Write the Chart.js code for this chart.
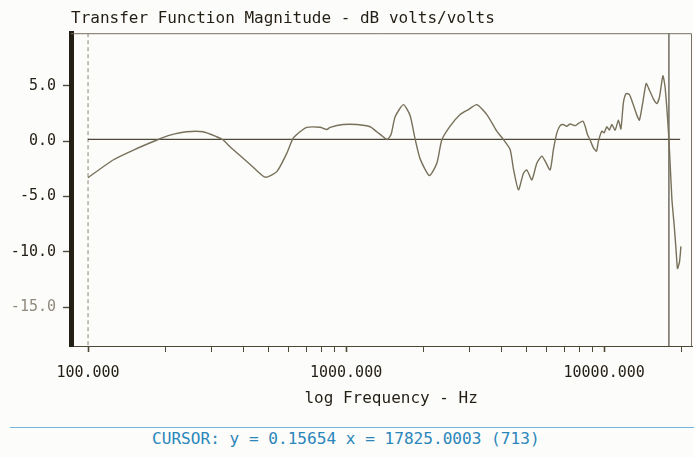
<!DOCTYPE html>
<html>
<head>
<meta charset="utf-8">
<script src="https://cdn.jsdelivr.net/npm/chart.js@4.4.1/dist/chart.umd.min.js"></script>
<style>
  html, body { margin: 0; padding: 0; background: #fcfcfa; }
  #wrap { position: relative; width: 694px; height: 457px; overflow: hidden; }
  #plot { display: block; }
  #cursor {
    position: absolute; left: 10px; top: 427px; width: 684px; height: 30px;
    border-top: 1px solid #74b7de;
  }
  #cursor span {
    position: absolute; left: 142px; top: 1px; line-height: 20px;
    font-family: "DejaVu Sans Mono", monospace; font-size: 16.1px; color: #2b86ba;
    white-space: pre;
  }
</style>
</head>
<body>
<div id="wrap">
  <canvas id="plot" width="694" height="415"></canvas>
  <div id="cursor"><span id="cursorText"></span></div>
</div>
<script>
// measured transfer function, frequency in Hz and magnitude in dB
const freqHz = [
  100, 125, 150, 187, 208, 241, 279, 315, 334, 355,
  388, 425, 485, 539, 589, 623, 663, 704, 793, 842,
  867, 974, 1100, 1239, 1315, 1391, 1442, 1494, 1549, 1668,
  1771, 1851, 1936, 2103, 2247, 2349, 2530, 2767, 2979, 3211,
  3511, 3838, 4071, 4322, 4451, 4654, 4867, 5017, 5246, 5484,
  5735, 5907, 6176, 6361, 6557, 6753, 6936, 7168, 7383, 7720,
  7951, 8268, 8441, 8616, 8825, 9088, 9337, 9504, 9797, 10000,
  10240, 10480, 10710, 11030, 11360, 11610, 11880, 12170, 12530, 12920,
  13390, 13700, 14130, 14550, 14980, 15530, 16010, 16390, 16890, 17240,
  17825, 18300, 18680, 19020, 19240, 19590, 19840
];
const magDb = [
  -3.3, -1.7, -0.8, 0.15, 0.55, 0.85, 0.85, 0.4, 0.1, -0.5,
  -1.3, -2.1, -3.25, -2.75, -1.1, 0.25, 0.85, 1.25, 1.25, 1.05,
  1.25, 1.5, 1.5, 1.3, 0.85, 0.4, 0.15, 0.6, 2.2, 3.3,
  2.3, 0.2, -1.6, -3.1, -2.0, 0.1, 1.35, 2.4, 2.85, 3.3,
  2.4, 0.9, 0.15, -0.75, -2.5, -4.4, -2.9, -2.6, -3.5, -2.0,
  -1.35, -1.8, -2.6, -0.75, 0.75, 1.4, 1.5, 1.35, 1.55, 1.4,
  1.6, 1.8, 1.35, 0.6, 0.1, -0.6, -0.9, 0.0, 0.9, 0.75,
  1.3, 1.0, 1.5, 1.0, 1.9, 1.1, 3.5, 4.3, 4.2, 3.4,
  2.35, 1.9, 3.55, 5.2, 4.6, 3.8, 3.4, 4.0, 5.9, 4.8,
  0.157, -5.2, -7.6, -10.0, -11.5, -10.9, -9.5
];

const cursorX = 17825.0003;
const cursorY = 0.15654;
const cursorIndex = 713;
const cursorLineEnd = 19700;

const xMin = 85.9;
const xMax = 21900;
const yMin = -18.5;
const yMax = 9.75;

const yTickValues = [5, 0, -5, -10, -15];
const xTickValues = [
  100, 200, 300, 400, 500, 600, 700, 800, 900,
  1000, 2000, 3000, 4000, 5000, 6000, 7000, 8000, 9000,
  10000, 20000
];
const xLabelled = [100, 1000, 10000];

const ink = '#241f15';
Chart.defaults.font.family = '"DejaVu Sans Mono", monospace';

document.getElementById('cursorText').textContent =
  'CURSOR: y = ' + cursorY.toFixed(5) + ' x = ' + cursorX.toFixed(4) + ' (' + cursorIndex + ')';

// thin top and right border round the plot area
const framePlugin = {
  id: 'frame',
  afterDatasetsDraw(chart) {
    const { ctx, chartArea: a } = chart;
    ctx.save();
    ctx.strokeStyle = '#77715f';
    ctx.lineWidth = 1;
    ctx.beginPath();
    ctx.moveTo(a.left, a.top + 0.5);
    ctx.lineTo(a.right - 0.5, a.top + 0.5);
    ctx.lineTo(a.right - 0.5, a.bottom);
    ctx.stroke();
    ctx.restore();
  }
};

const ctx = document.getElementById('plot').getContext('2d');

new Chart(ctx, {
  type: 'line',
  data: {
    datasets: [
      {
        label: 'magnitude',
        data: freqHz.map((f, i) => ({ x: f, y: magDb[i] })),
        borderColor: '#77705a',
        borderWidth: 1.4,
        pointRadius: 0,
        tension: 0.2,
      },
      {
        label: 'cursor y',
        data: [{ x: freqHz[0], y: cursorY }, { x: cursorLineEnd, y: cursorY }],
        borderColor: '#4d4838',
        borderWidth: 1.2,
        pointRadius: 0,
      },
      {
        label: 'cursor x',
        data: [{ x: cursorX, y: yMax }, { x: cursorX, y: yMin }],
        borderColor: '#4d4838',
        borderWidth: 1.2,
        pointRadius: 0,
      },
      {
        label: 'start',
        data: [{ x: freqHz[0], y: yMax }, { x: freqHz[0], y: yMin }],
        borderColor: '#8c8672',
        borderWidth: 1,
        borderDash: [4, 3],
        pointRadius: 0,
      },
    ],
  },
  options: {
    responsive: false,
    animation: false,
    devicePixelRatio: 1,
    layout: { padding: { top: 0, right: 2, bottom: 3, left: 0 } },
    plugins: {
      legend: { display: false },
      tooltip: { enabled: false },
      title: {
        display: true,
        text: 'Transfer Function Magnitude - dB volts/volts',
        align: 'start',
        fullSize: false,
        color: ink,
        font: { size: 16, weight: 'normal', lineHeight: 1.2 },
        padding: { top: 9, bottom: 5 },
      },
    },
    scales: {
      x: {
        type: 'logarithmic',
        min: xMin,
        max: xMax,
        afterBuildTicks: (scale) => {
          scale.ticks = xTickValues.map((v) => ({ value: v, major: xLabelled.includes(v) }));
        },
        afterFit: (scale) => { scale.height = 66; },
        ticks: {
          autoSkip: false,
          maxRotation: 0,
          padding: 12,
          color: ink,
          font: { size: 15 },
          callback: (v) => (xLabelled.includes(v) ? v.toFixed(3) : ''),
        },
        grid: {
          drawOnChartArea: false,
          tickLength: 6,
          tickColor: '#4d4838',
          tickWidth: (c) => (c.tick && xLabelled.includes(c.tick.value) ? 1.6 : 1),
        },
        border: { color: '#4d4838', width: 1 },
        title: {
          display: true,
          text: '  log Frequency - Hz',
          color: ink,
          font: { size: 16, lineHeight: 1.2 },
          padding: { top: 4, bottom: 4 },
        },
      },
      y: {
        min: yMin,
        max: yMax,
        afterBuildTicks: (scale) => {
          scale.ticks = yTickValues.map((v) => ({ value: v }));
        },
        afterFit: (scale) => { scale.width = 71; },
        ticks: {
          padding: 7,
          font: { size: 15 },
          color: (c) => (c.tick && c.tick.value === -15 ? '#8f8a7c' : ink),
          callback: (v) => v.toFixed(1),
        },
        grid: {
          drawOnChartArea: false,
          tickLength: 8,
          tickColor: '#4d4838',
          tickWidth: 1.4,
        },
        border: { color: ink, width: 5 },
      },
    },
  },
  plugins: [framePlugin],
});
</script>
</body>
</html>
